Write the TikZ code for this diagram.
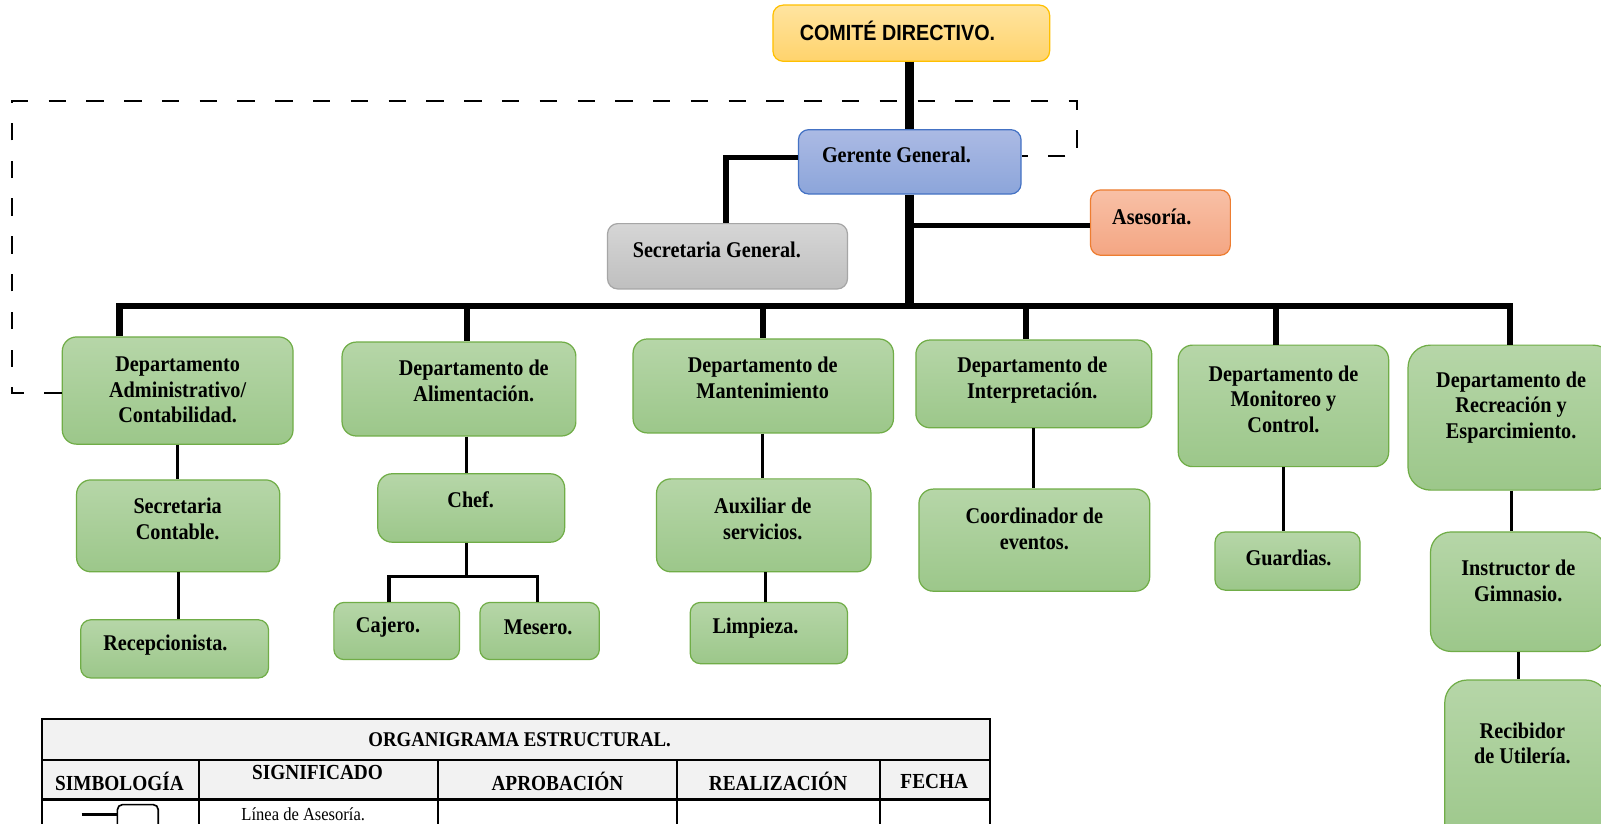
\documentclass[tikz,border=0pt]{standalone}
\usepackage{fontspec}
\setmainfont{Liberation Serif}[FakeStretch=0.9]
\newfontfamily\arialfont{Liberation Sans}[FakeStretch=0.9]
\definecolor{gtop}{HTML}{B6D6A8}
\definecolor{gbot}{HTML}{9CC78A}
\definecolor{gbrd}{HTML}{70AD47}
\definecolor{btop}{HTML}{ABBAE4}
\definecolor{bbot}{HTML}{8CA5DA}
\definecolor{bbrd}{HTML}{4472C4}
\definecolor{stop}{HTML}{D6D6D6}
\definecolor{sbot}{HTML}{BFBFBF}
\definecolor{sbrd}{HTML}{A6A6A6}
\definecolor{otop}{HTML}{F8C0A6}
\definecolor{obot}{HTML}{F4A683}
\definecolor{obrd}{HTML}{ED7D31}
\definecolor{ytop}{HTML}{FFE4A0}
\definecolor{ybot}{HTML}{FFD36C}
\definecolor{ybrd}{HTML}{FFC000}
\definecolor{tgray}{HTML}{F2F2F2}
\begin{document}
\begin{tikzpicture}[x=1pt,y=-1pt,
  boxbase/.style={draw, line width=1.2pt, inner sep=0pt, rounded corners=14pt},
  gbox/.style={boxbase, draw=gbrd, top color=gtop, bottom color=gbot},
  txt/.style={font=\bfseries\fontsize{22}{25}\selectfont, align=center, inner sep=0pt},
  tht/.style={font=\bfseries\fontsize{21}{23}\selectfont, inner sep=0pt},
  heavy/.style={line width=9pt},
  busline/.style={line width=6pt, line join=miter},
  midline/.style={line width=5pt, line join=miter},
  thinline/.style={line width=3pt, line join=miter},
  dashline/.style={line width=2pt, dash pattern=on 17pt off 20pt}
]
\clip (0,0) rectangle (1568,807);
\fill[white] (0,0) rectangle (1568,807);

% ---- boxes ----
\node[boxbase, rounded corners=10pt, draw=ybrd, top color=ytop, bottom color=ybot,
  minimum width=271pt, minimum height=55pt] (com) at (892.5,32.5) {};
\node[boxbase, rounded corners=10pt, draw=bbrd, top color=btop, bottom color=bbot,
  minimum width=218pt, minimum height=63pt] (ger) at (891,158.5) {};
\node[boxbase, rounded corners=10pt, draw=sbrd, top color=stop, bottom color=sbot,
  minimum width=235pt, minimum height=64pt] (sec) at (712.5,251) {};
\node[boxbase, rounded corners=10pt, draw=obrd, top color=otop, bottom color=obot,
  minimum width=137pt, minimum height=64pt] (ase) at (1136.5,218) {};

\node[gbox, minimum width=226pt, minimum height=105pt] (adm) at (174,382.5) {};
\node[gbox, minimum width=229pt, minimum height=92pt] (ali) at (449.5,381) {};
\node[gbox, minimum width=255pt, minimum height=92pt] (man) at (747.5,378) {};
\node[gbox, minimum width=231pt, minimum height=86pt] (int) at (1012.5,376) {};
\node[gbox, minimum width=206pt, minimum height=119pt] (mon) at (1257,397.5) {};
\node[gbox, rounded corners=22pt, minimum width=203pt, minimum height=142pt] (rec) at (1480.5,409) {};

\node[gbox, minimum width=199pt, minimum height=90pt] (scon) at (174.5,515) {};
\node[gbox, rounded corners=10pt, minimum width=184pt, minimum height=57pt] (recp) at (171,635.5) {};
\node[gbox, minimum width=183pt, minimum height=67pt] (chef) at (461.5,497.5) {};
\node[gbox, rounded corners=10pt, minimum width=123pt, minimum height=56pt] (caj) at (388.5,618) {};
\node[gbox, rounded corners=10pt, minimum width=117pt, minimum height=56pt] (mes) at (528.5,618) {};
\node[gbox, minimum width=210pt, minimum height=91pt] (aux) at (748,514.5) {};
\node[gbox, rounded corners=10pt, minimum width=154pt, minimum height=60pt] (lim) at (753,620) {};
\node[gbox, minimum width=226pt, minimum height=100pt] (coo) at (1013,529) {};
\node[gbox, rounded corners=10pt, minimum width=142pt, minimum height=57pt] (gua) at (1261,549.5) {};
\node[gbox, rounded corners=20pt, minimum width=172pt, minimum height=117pt] (ins) at (1487,579.5) {};
\node[gbox, rounded corners=22pt, minimum width=160pt, minimum height=164pt] (rcb) at (1495,748) {};

% ---- texts ----
\node[inner sep=0pt, font=\arialfont\bfseries\fontsize{21.5}{23}\selectfont] (comt) at (879,30) {COMITÉ DIRECTIVO.};
\node[txt] (gert) at (878,152) {Gerente General.};
\node[txt] (sect) at (702,245) {Secretaria General.};
\node[txt] (aset) at (1128,212) {Asesoría.};
\node[txt] (admt) at (174,382) {Departamento\\Administrativo/\\Contabilidad.};
\node[txt] (alit) at (464,373) {Departamento de\\Alimentación.};
\node[txt] (mant) at (747,370) {Departamento de\\Mantenimiento};
\node[txt] (intt) at (1011,372) {Departamento de\\Interpretación.};
\node[txt] (mont) at (1257,391) {Departamento de\\Monitoreo y\\Control.};
\node[txt] (rect) at (1480,399) {Departamento de\\Recreación y\\Esparcimiento.};
\node[txt] (scont) at (174,508) {Secretaria\\Contable.};
\node[txt] (recpt) at (162,632) {Recepcionista.};
\node[txt] (cheft) at (461,489) {Chef.};
\node[txt] (cajt) at (380,614) {Cajero.};
\node[txt] (mest) at (527,614) {Mesero.};
\node[txt] (auxt) at (747,508) {Auxiliar de\\servicios.};
\node[txt] (limt) at (740,615) {Limpieza.};
\node[txt] (coot) at (1013,518) {Coordinador de\\eventos.};
\node[txt] (guat) at (1262,546) {Guardias.};
\node[txt] (inst) at (1487,569) {Instructor de\\Gimnasio.};
\node[txt] (rcbt) at (1491,728) {Recibidor\\de Utilería.};

% ---- coordinates ----
\coordinate (d1) at (117,300);
\coordinate (d2) at (457,300);
\coordinate (d3) at (747,300);
\coordinate (d4) at (1005,300);
\coordinate (d5) at (1250,300);
\coordinate (d6) at (1479,300);
\coordinate (c2) at (457,0);
\coordinate (c3) at (747,0);
\coordinate (c3b) at (750,0);
\coordinate (cj1) at (381,565);
\coordinate (cj2) at (526,565);
\coordinate (sj) at (711,0);
\coordinate (dA) at (12,385);
\coordinate (dB) at (12,99);
\coordinate (dC) at (1055,99);
\coordinate (dD) at (1055,153);

% ---- connectors ----
\draw[heavy] (ger.north |- com.south) -- (ger.north);
\draw[heavy] (ger.south) -- (ger.south |- d1);
\draw[busline] (d1 |- adm.north) -- (d1) -- (d6) -- (d6 |- rec.north);
\draw[busline] (d2) -- (d2 |- ali.north);
\draw[busline] (d3) -- (d3 |- man.north);
\draw[busline] (d4) -- (d4 |- int.north);
\draw[busline] (d5) -- (d5 |- mon.north);
\draw[midline] ([yshift=4pt]ger.west) -| (sj |- sec.north);
\draw[midline] (ger.south |- ase.west) ++(0,3) -- ([yshift=-3pt]ase.west);

\draw[thinline] (adm.south) -- (adm.south |- scon.north);
\draw[thinline] (scon.south) -- (scon.south |- recp.north);
\draw[thinline] (c2 |- ali.south) -- (c2 |- chef.north);
\draw[thinline] (c2 |- chef.south) -- (c2 |- cj1);
\draw[thinline] (cj1 |- caj.north) -- (cj1) -- (cj2) -- (cj2 |- mes.north);
\draw[thinline] (c3 |- man.south) -- (c3 |- aux.north);
\draw[thinline] (c3b |- aux.south) -- (c3b |- lim.north);
\draw[thinline] (int.south) -- (int.south |- coo.north);
\draw[thinline] (mon.south) -- (mon.south |- gua.north);
\draw[thinline] (rec.south) -- (rec.south |- ins.north);
\draw[thinline] (ins.south) -- (ins.south |- rcb.north);

\draw[dashline] (adm.west |- dA) -- (dA) -- (dB) -- (dC) -- (dD) -- (ger.east |- dD);

% ---- table ----
\fill[tgray] (41,704) rectangle (970,783);
\draw[line width=2pt] (41,830) -- (41,704) -- (970,704) -- (970,830);
\draw[line width=2pt] (41,744) -- (970,744);
\draw[line width=2pt] (41,783) -- (970,783);
\foreach \cx in {195,429,663,862} \draw[line width=2pt] (\cx,744) -- (\cx,830);
\node[tht, font=\bfseries\fontsize{20.5}{22}\selectfont] (ttitle) at (509,724) {ORGANIGRAMA ESTRUCTURAL.};
\node[tht] (th1) at (117,765) {SIMBOLOGÍA};
\node[tht] (th2) at (311,757) {SIGNIFICADO};
\node[tht] (th3) at (546,765) {APROBACIÓN};
\node[tht] (th4) at (762,765) {REALIZACIÓN};
\node[tht] (th5) at (915,765) {FECHA};
\node[inner sep=0pt, font=\fontsize{18}{20}\selectfont] (td2) at (297,797) {Línea de Asesoría.};
\coordinate (sy1) at (80,798);
\coordinate (sy2) at (115,798);
\draw[line width=3pt] (sy1) -- (sy2);
\draw[line width=1.6pt, rounded corners=5pt] (115,830) -- (115,788) -- (155,788) -- (155,830);
\end{tikzpicture}
\end{document}
